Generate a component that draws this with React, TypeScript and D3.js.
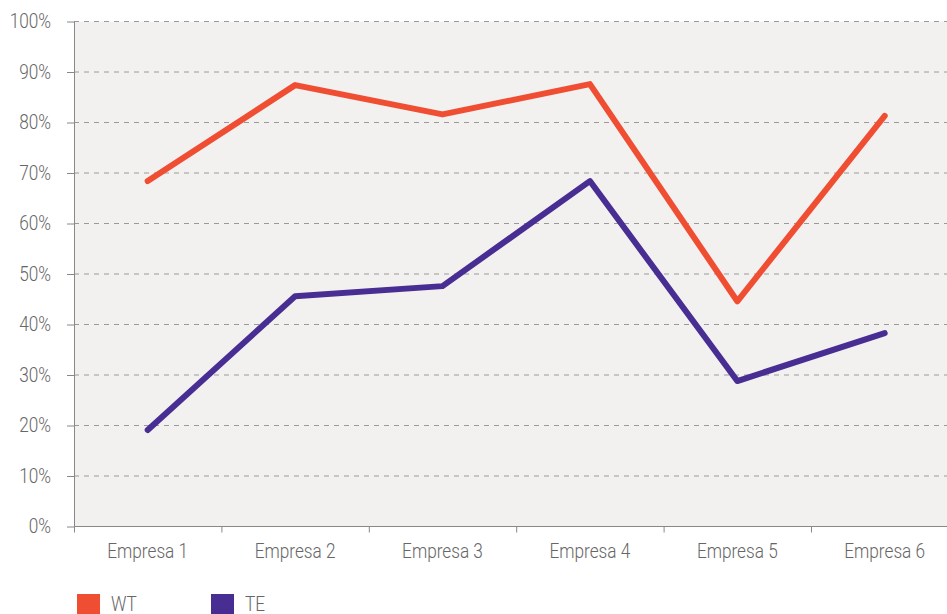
import * as d3 from 'd3';
import React, { useEffect, useRef } from 'react';

const WIDTH = 947;
const HEIGHT = 614;
const MARGIN_LEFT = 74;
const MARGIN_TOP = 21.5;
const PLOT_BOTTOM = 526.5;
const BAND = 147.4;

const categories = ['Empresa 1', 'Empresa 2', 'Empresa 3', 'Empresa 4', 'Empresa 5', 'Empresa 6'];
const wtValues = [68.4, 87.4, 81.6, 87.6, 44.6, 81.3];
const teValues = [19.1, 45.6, 47.6, 68.4, 28.8, 38.3];
const yTicks = [0, 10, 20, 30, 40, 50, 60, 70, 80, 90, 100];

const series = [
  { name: 'WT', values: wtValues, color: '#f04e32' },
  { name: 'TE', values: teValues, color: '#482e92' },
];

const FONT = 'Roboto, sans-serif';
const TEXT_COLOR = '#666';
const SQUEEZE = 0.86; // fake a condensed face

const App = (): JSX.Element => {
  const ref = useRef<SVGSVGElement>(null);

  useEffect(() => {
    if (ref.current === null) return;
    ref.current.replaceChildren();

    const x = d3
      .scaleBand()
      .domain(categories)
      .range([MARGIN_LEFT, MARGIN_LEFT + BAND * categories.length]);
    const y = d3.scaleLinear().domain([0, 100]).range([PLOT_BOTTOM, MARGIN_TOP]);

    const svg = d3
      .select(ref.current)
      .attr('width', WIDTH)
      .attr('height', HEIGHT)
      .attr('viewBox', [0, 0, WIDTH, HEIGHT])
      .style('font-family', FONT);

    // Plot background
    svg
      .append('rect')
      .attr('x', MARGIN_LEFT)
      .attr('y', y(100))
      .attr('width', WIDTH - MARGIN_LEFT)
      .attr('height', y(0) - y(100))
      .attr('fill', '#f2f1f0');

    // Dashed gridlines
    svg
      .append('g')
      .selectAll()
      .data(yTicks.filter((t) => t > 0))
      .join('line')
      .attr('x1', MARGIN_LEFT)
      .attr('x2', WIDTH)
      .attr('y1', (d) => y(d))
      .attr('y2', (d) => y(d))
      .attr('stroke', '#9a9a9a')
      .attr('stroke-width', 1)
      .attr('stroke-dasharray', '5,5');

    // Y axis
    svg
      .append('g')
      .attr('transform', `translate(${MARGIN_LEFT}, 0)`)
      .call(
        d3
          .axisLeft(y)
          .tickValues(yTicks)
          .tickSize(7)
          .tickPadding(16)
          .tickFormat((d) => `${d}%`),
      )
      .call((g) => g.select('.domain').attr('stroke', '#888').attr('d', `M0.5,${y(100)}V${y(0)}`))
      .call((g) => g.selectAll('.tick line').attr('stroke', '#888'))
      .call((g) =>
        g
          .selectAll('.tick text')
          .attr('fill', TEXT_COLOR)
          .attr('font-size', 20)
          .attr('font-weight', 300)
          .attr('font-family', FONT),
      );

    // X axis (ticks on band boundaries)
    const xAxis = svg.append('g').attr('transform', `translate(0, ${PLOT_BOTTOM})`);
    xAxis
      .append('line')
      .attr('x1', MARGIN_LEFT)
      .attr('x2', WIDTH)
      .attr('stroke', '#888');
    xAxis
      .selectAll('.tk')
      .data(categories)
      .join('line')
      .attr('x1', (d) => (x(d) as number) + 0.5)
      .attr('x2', (d) => (x(d) as number) + 0.5)
      .attr('y1', 0)
      .attr('y2', 6)
      .attr('stroke', '#888');
    xAxis
      .selectAll('text')
      .data(categories)
      .join('text')
      .attr('x', (d) => (x(d) as number) + x.bandwidth() / 2)
      .attr('y', 31)
      .attr('text-anchor', 'middle')
      .attr('fill', TEXT_COLOR)
      .attr('font-size', 20)
      .attr('font-weight', 300)
      .text((d) => d);

    // Lines
    const line = d3
      .line<number>()
      .x((_, i) => (x(categories[i]) as number) + x.bandwidth() / 2)
      .y((d) => y(d));

    svg
      .append('g')
      .selectAll()
      .data(series)
      .join('path')
      .attr('d', (s) => line(s.values))
      .attr('fill', 'none')
      .attr('stroke', (s) => s.color)
      .attr('stroke-width', 6)
      .attr('stroke-linecap', 'round')
      .attr('stroke-linejoin', 'round');

    // Legend
    const legend = svg
      .append('g')
      .selectAll()
      .data(series)
      .join('g')
      .attr('transform', (_, i) => `translate(${77 + i * 134}, 594)`);
    legend
      .append('rect')
      .attr('width', 23)
      .attr('height', 23)
      .attr('fill', (s) => s.color);
    legend
      .append('text')
      .attr('x', 34)
      .attr('y', 17)
      .attr('fill', TEXT_COLOR)
      .attr('font-size', 20)
      .attr('font-weight', 300)
      .text((s) => s.name);

    // Narrow every label to mimic the condensed face of the original
    svg.selectAll<SVGTextElement, unknown>('text').each(function () {
      const w = this.getComputedTextLength();
      this.setAttribute('textLength', String(w * SQUEEZE));
      this.setAttribute('lengthAdjust', 'spacingAndGlyphs');
    });
  }, []);

  return <svg ref={ref} style={{ position: 'absolute', left: 0, top: 0 }} />;
};

export default App;
